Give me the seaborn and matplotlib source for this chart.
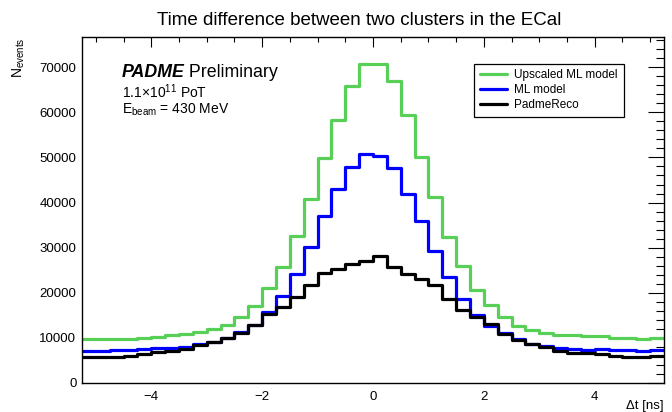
import numpy as np
import pandas as pd
import matplotlib
matplotlib.use("Agg")
import matplotlib.pyplot as plt
import seaborn as sns
from matplotlib.ticker import MultipleLocator
from matplotlib.lines import Line2D

# bins of 0.25 ns between -5.25 and 5.25
bin_edges = np.linspace(-5.25, 5.25, 43)
bin_centers = (bin_edges[:-1] + bin_edges[1:]) / 2

upscaled_ml = [9700, 9700, 9750, 9800, 10050, 10200, 10600, 10850, 11350, 11950,
               12850, 14600, 17050, 20950, 25700, 32550, 40700, 49900, 58200, 65800,
               70700, 70800, 66900, 59300, 50200, 41300, 32450, 25900, 20700, 17200,
               14700, 12650, 11800, 11100, 10750, 10550, 10450, 10350, 10000, 9950,
               9850, 9900]
ml_model = [7200, 7200, 7250, 7250, 7450, 7650, 7800, 8050, 8550, 9150,
            9950, 11200, 12750, 15700, 19350, 24250, 30050, 37000, 42900, 47800,
            50700, 50400, 47700, 41850, 35950, 29350, 23500, 18700, 15050, 12700,
            11000, 9700, 8600, 8100, 7750, 7500, 7400, 7450, 7350, 7350,
            7100, 7400]
padme_reco = [5700, 5700, 5800, 5950, 6350, 6800, 7100, 7450, 8400, 9150,
              10000, 11150, 12800, 15300, 16900, 19150, 21700, 24400, 25250, 26300,
              27100, 28100, 25700, 24200, 23100, 21650, 18700, 16150, 14700, 13000,
              10900, 9450, 8700, 8050, 7100, 6750, 6550, 6500, 6000, 5850,
              5850, 6000]

series_names = ["Upscaled ML model", "ML model", "PadmeReco"]
series_values = [upscaled_ml, ml_model, padme_reco]
series_colors = ["#58d058", "#0000ff", "#000000"]

sns.set_style("white")
plt.rcParams["font.family"] = ["Liberation Sans", "DejaVu Sans"]
plt.rcParams["text.color"] = "black"
plt.rcParams["axes.labelcolor"] = "black"
plt.rcParams["mathtext.fontset"] = "custom"
plt.rcParams["mathtext.rm"] = "Liberation Sans"
plt.rcParams["mathtext.it"] = "Liberation Sans:italic"
plt.rcParams["mathtext.bf"] = "Liberation Sans:bold"
plt.rcParams["mathtext.default"] = "regular"

fig = plt.figure(figsize=(6.72, 4.12), dpi=100)
ax = fig.add_axes([0.122, 0.0704, 0.866, 0.8398])

df = pd.DataFrame({"dt": bin_centers})
for name, vals, col in zip(series_names, series_values, series_colors):
    df[name] = vals
    sns.histplot(data=df, x="dt", weights=name, binwidth=0.25, binrange=(-5.25, 5.25),
                 element="step", fill=False, color=col, linewidth=2.3, ax=ax)

ax.set_xlim(-5.25, 5.25)
ax.set_ylim(0, 76700)
ax.xaxis.set_major_locator(MultipleLocator(2))
ax.xaxis.set_minor_locator(MultipleLocator(0.5))
ax.yaxis.set_major_locator(MultipleLocator(10000))
ax.yaxis.set_minor_locator(MultipleLocator(2000))
ax.tick_params(axis="both", which="both", direction="in", top=True, right=True,
               labelsize=9.5, colors="black", width=0.8)
ax.tick_params(axis="y", which="major", length=11.5, pad=4)
ax.tick_params(axis="y", which="minor", length=5.8)
ax.tick_params(axis="x", which="major", length=7.2, pad=6)
ax.tick_params(axis="x", which="minor", length=3.6)
for sp in ax.spines.values():
    sp.set_color("black")
    sp.set_linewidth(1.0)

ax.set_xlabel("Δt [ns]", loc="right", fontsize=9.5)
ax.xaxis.set_label_coords(1.0, -0.05)
ax.set_ylabel("N$_{events}$", loc="top", fontsize=10)
ax.yaxis.set_label_coords(-0.0945, 1.0)

fig.suptitle("Time difference between two clusters in the ECal", fontsize=13.5,
             x=0.535, y=0.97)

t1 = ax.text(0.068, 0.872, "PADME", transform=ax.transAxes, fontsize=12.8,
             fontweight="bold", fontstyle="italic", va="bottom")
ax.annotate(" Preliminary", xy=(1, 0), xycoords=t1, fontsize=12.8, va="bottom")
ax.text(0.068, 0.823, "1.1×10$^{11}$ PoT", transform=ax.transAxes, fontsize=10,
        va="baseline")
ax.text(0.068, 0.778, "E$_{beam}$ = 430 MeV", transform=ax.transAxes, fontsize=10,
        va="baseline")

handles = [Line2D([], [], color=c, linewidth=2.3) for c in series_colors]
leg = ax.legend(handles, series_names, loc="upper left",
                bbox_to_anchor=(0.674, 0.775, 0.257, 0.147), mode="expand",
                fontsize=8.5, frameon=True, fancybox=False, framealpha=1,
                edgecolor="black", handlelength=2.3, borderpad=0.45,
                labelspacing=0.25, handletextpad=0.6, borderaxespad=0)
leg.get_frame().set_linewidth(0.9)

fig.savefig("out.png", dpi=100)
